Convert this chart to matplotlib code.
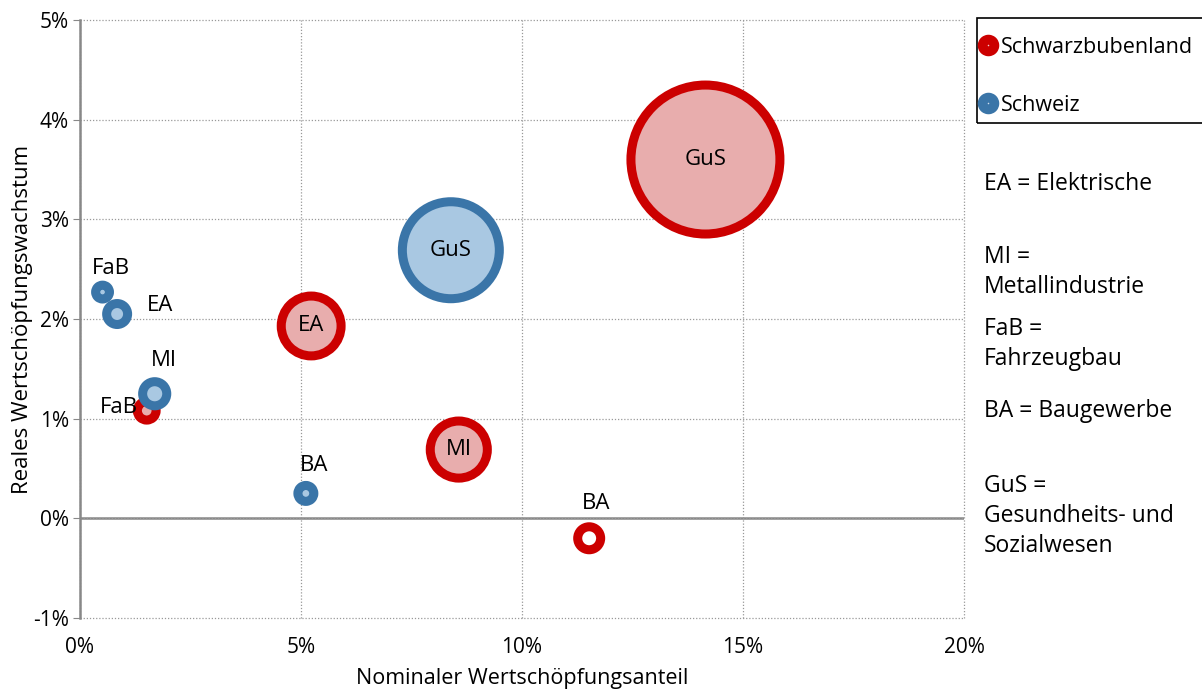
import matplotlib.pyplot as plt
import matplotlib.patches as patches
from matplotlib.lines import Line2D
from matplotlib.ticker import FuncFormatter
import numpy as np

# Data (x = nominal share %, y = real growth %, size = relative bubble size)
sectors = ['GuS', 'EA', 'MI', 'BA', 'FaB']
sbl_x = [14.15, 5.23, 8.57, 11.52, 1.51]
sbl_y = [3.60, 1.93, 0.69, -0.20, 1.08]
sbl_size = [100, 19.0, 17.5, 4.1, 3.1]

ch_sectors = ['GuS', 'EA', 'FaB', 'MI', 'BA']
ch_x = [8.39, 0.84, 0.51, 1.69, 5.11]
ch_y = [2.69, 2.05, 2.27, 1.25, 0.25]
ch_size = [45, 3.6, 2.1, 4.4, 2.5]

x_ticks = [0, 5, 10, 15, 20]
y_ticks = [-1, 0, 1, 2, 3, 4, 5]

plt.rcParams['font.family'] = ['Open Sans', 'DejaVu Sans']

red_edge, red_fill = '#CC0000', '#E8ADAD'
blue_edge, blue_fill = '#3A75A8', '#A9C8E2'

fig = plt.figure(figsize=(12.02, 6.93), dpi=100)
ax = fig.add_axes([80/1202, 1 - 618/693, 884/1202, 598/693])

ring_pt = 6.5          # border width in points
max_r_px = 79          # outer radius of largest bubble in pixels


def marker_area(size):
    r_out = max_r_px * np.sqrt(np.array(size) / 100.0) * 0.72
    return (2 * (r_out - ring_pt / 2)) ** 2


# label offsets in points (0,0 = centred in bubble)
sbl_offsets = {'GuS': (0, 0), 'EA': (0, 0), 'MI': (0, 0), 'BA': (5, 25), 'FaB': (-20, 2)}
ch_offsets = {'GuS': (0, 0), 'EA': (31, 6), 'FaB': (6, 17), 'MI': (7, 24), 'BA': (6, 20)}

sbl_fills = [red_fill, red_fill, red_fill, 'white', red_fill]
ax.scatter(sbl_x, sbl_y, s=marker_area(sbl_size), c=sbl_fills, edgecolors=red_edge,
           linewidths=ring_pt, zorder=3, clip_on=False)
ax.scatter(ch_x, ch_y, s=marker_area(ch_size), c=blue_fill, edgecolors=blue_edge,
           linewidths=ring_pt, zorder=4, clip_on=False)

for name, x, y in zip(sectors, sbl_x, sbl_y):
    ax.annotate(name, (x, y), xytext=sbl_offsets[name], textcoords='offset points',
                ha='center', va='center', fontsize=16, zorder=6)
for name, x, y in zip(ch_sectors, ch_x, ch_y):
    ax.annotate(name, (x, y), xytext=ch_offsets[name], textcoords='offset points',
                ha='center', va='center', fontsize=16, zorder=6)

ax.set_xlim(0, 20)
ax.set_ylim(-1, 5)
ax.set_xticks(x_ticks)
ax.set_yticks(y_ticks)
ax.xaxis.set_major_formatter(FuncFormatter(lambda v, p: f'{v:.0f}%'))
ax.yaxis.set_major_formatter(FuncFormatter(lambda v, p: f'{v:.0f}%'))
ax.tick_params(axis='x', length=0, pad=14, labelsize=15)
ax.tick_params(axis='y', length=5, color='#888888', pad=3, labelsize=15)

ax.grid(True, linestyle=(0, (1, 1.5)), color='#999999', linewidth=0.9, zorder=0)
for g in ax.get_xgridlines() + ax.get_ygridlines():
    g.set_clip_on(False)
for side in ['top', 'right', 'bottom']:
    ax.spines[side].set_visible(False)
ax.spines['left'].set_color('#888888')
ax.spines['left'].set_linewidth(1.8)
ax.axhline(0, color='#888888', linewidth=1.8, zorder=1)

ax.set_xlabel('Nominaler Wertschöpfungsanteil', fontsize=15.5, labelpad=7)
ax.set_ylabel('Reales Wertschöpfungswachstum', fontsize=16, labelpad=0)

# legend
handles = [Line2D([], [], linestyle='none', marker='o', markersize=8.5, markeredgewidth=7,
                  markerfacecolor='#F4D0D0', markeredgecolor=red_edge),
           Line2D([], [], linestyle='none', marker='o', markersize=8.5, markeredgewidth=7,
                  markerfacecolor='#D0E0F0', markeredgecolor=blue_edge)]
fig.legend(handles, ['Schwarzbubenland', 'Schweiz'], loc='upper left',
           bbox_to_anchor=(978/1202, 1 - 37/693), frameon=False, fontsize=15.5,
           borderpad=0, handlelength=0.95, handletextpad=0.1, labelspacing=1.7,
           borderaxespad=0)
fig.patches.append(patches.Rectangle((977/1202, 1 - 123/693), 240/1202, 105/693,
                                     transform=fig.transFigure, fill=False,
                                     edgecolor='black', linewidth=1.2, clip_on=False))

# abbreviations
notes = [('EA = Elektrische', 184), ('MI =\nMetallindustrie', 272),
         ('FaB =\nFahrzeugbau', 344), ('BA = Baugewerbe', 411),
         ('GuS =\nGesundheits- und\nSozialwesen', 516)]
for txt, ypx in notes:
    fig.text(984/1202, 1 - ypx/693, txt, ha='left', va='center', fontsize=16.5,
             linespacing=1.35)

fig.savefig('out.png', dpi=100)
